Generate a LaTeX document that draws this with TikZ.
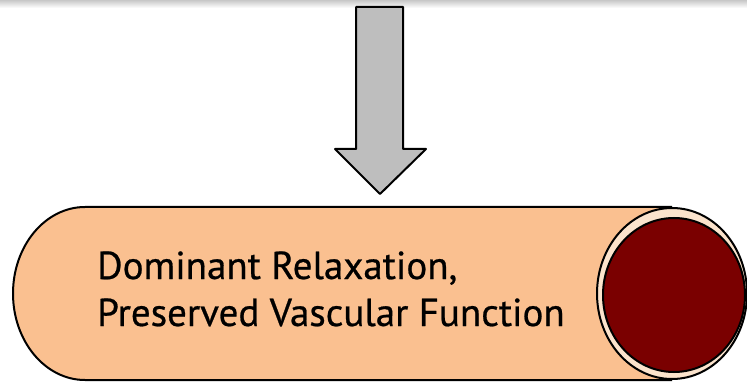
\documentclass[tikz,border=0pt]{standalone}
\usepackage{fontspec}
\setmainfont{PT Sans}[FakeBold=0.6]
\definecolor{peach}{HTML}{FAC090}
\definecolor{cream}{HTML}{FBE3CC}
\definecolor{blood}{HTML}{7A0000}
\definecolor{arrowgray}{HTML}{BEBEBE}
\tikzset{
  outline/.style={draw=black, line width=2pt, line join=round},
}
\begin{document}
\begin{tikzpicture}[x=1pt,y=-1pt]
\useasboundingbox (0,0) rectangle (747,382);
\fill[white] (0,0) rectangle (747,382);
\shade[top color=black!22, bottom color=white] (0,0) rectangle (747,8);
% arrow
\draw[outline, fill=arrowgray]
  (356,7) -- (403,7) -- (403,149) -- (426,149) -- (380,194) -- (335,149) -- (356,149) -- cycle;
% tube body
\draw[outline, fill=peach]
  (672,207) -- (85,207) arc[start angle=90, end angle=270, x radius=72, y radius=-86.5] -- (672,380);
\draw[outline, fill=cream] (672,293.5) ellipse[x radius=75, y radius=85.5];
\draw[outline, fill=blood] (674,295) ellipse[x radius=71, y radius=77];
\node[anchor=base west, align=left, inner sep=0pt, font=\fontsize{39}{47}\selectfont] (label) at (97,326)
  {Dominant Relaxation,\\Preserved Vascular Function};
\end{tikzpicture}
\end{document}
